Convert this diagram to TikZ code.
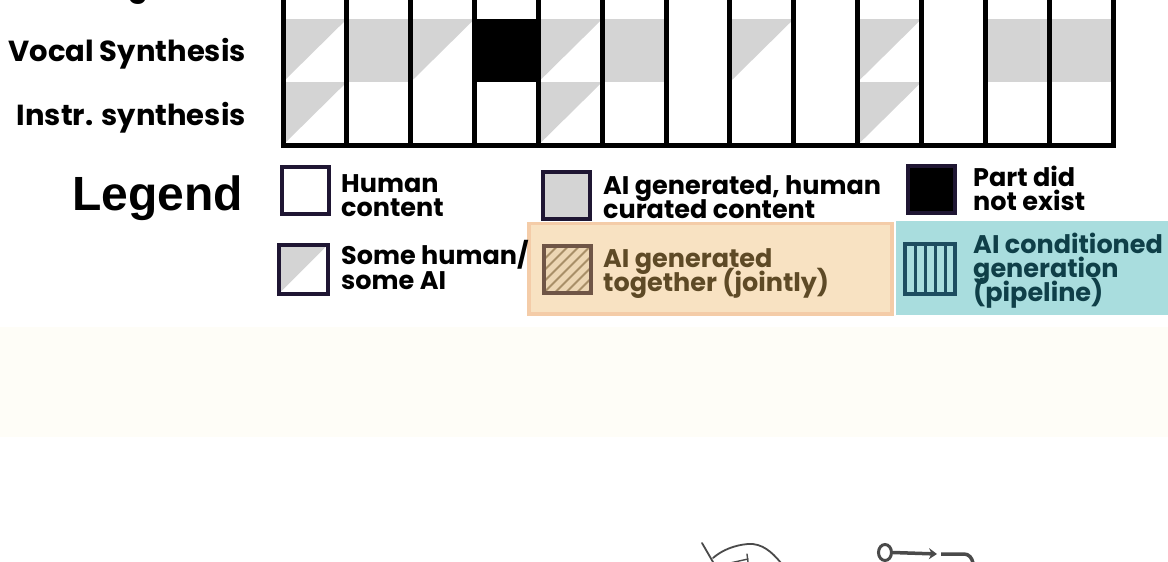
\documentclass[tikz,border=0pt]{standalone}
\usepackage{fontspec}
\setmainfont{Poppins}
\newfontfamily\legfont{Liberation Sans}
\usetikzlibrary{arrows.meta,shapes.geometric}
\definecolor{cellgray}{HTML}{D4D4D4}
\definecolor{cream}{HTML}{FEFDF7}
\definecolor{sqborder}{HTML}{1F1633}
\definecolor{orfill}{HTML}{F8E2C2}
\definecolor{orborder}{HTML}{F4CCA8}
\definecolor{hatchborder}{HTML}{6F5546}
\definecolor{hatchline}{HTML}{A88F68}
\definecolor{ortext}{HTML}{5E4A26}
\definecolor{tealfill}{HTML}{A9DDDE}
\definecolor{tealborder}{HTML}{1D4D60}
\definecolor{tealtext}{HTML}{0F3F48}
\definecolor{sketchc}{HTML}{4A4A4A}
\tikzset{
  gridline/.style={line width=5pt, black, line cap=rect},
  legsq/.style={draw=sqborder, line width=4pt, minimum size=47pt, inner sep=0pt, outer sep=0pt},
  rowlabel/.style={font=\bfseries\fontsize{29}{29}\selectfont, anchor=base east, inner sep=0pt},
  legtext/.style={font=\bfseries\fontsize{25.5}{25.5}\selectfont, anchor=base west, inner sep=0pt},
  sketch/.style={draw=sketchc, line width=1.8pt, line cap=round, line join=round},
}
\begin{document}
\begin{tikzpicture}[x=1pt,y=-1pt]
\useasboundingbox (0,0) rectangle (1168,562);
\clip (0,0) rectangle (1168,562);
\fill[white] (0,0) rectangle (1168,562);
\fill[cream] (0,327) rectangle (1168,437);

% ---- grid ----
\def\cw{63.85}
\foreach \i in {1,5,11,12}
  \fill[cellgray] ({283+\i*\cw},19) rectangle ({283+(\i+1)*\cw},82);
\foreach \i in {0,2,4,7,9}
  \fill[cellgray] ({283+\i*\cw},19) -- ({283+(\i+1)*\cw},19) -- ({283+\i*\cw},82) -- cycle;
\foreach \i in {0,4,9}
  \fill[cellgray] ({283+\i*\cw},82) -- ({283+(\i+1)*\cw},82) -- ({283+\i*\cw},145) -- cycle;
\fill[black] ({283+3*\cw},19) rectangle ({283+4*\cw},82);
\foreach \i in {0,...,13}
  \draw[gridline] ({283+\i*\cw},-5) -- ({283+\i*\cw},145);
\draw[gridline] (283,145) -- ({283+13*\cw},145);

% ---- row labels ----
\node[rowlabel] (rowtop) at (246,-3) {Arrangement};
\node[rowlabel] (rowvocal) at (246,61) {Vocal Synthesis};
\node[rowlabel] (rowinstr) at (246,125) {Instr. synthesis};

% ---- legend ----
\node[font=\legfont\bfseries\fontsize{48}{48}\selectfont, anchor=base east, inner sep=0pt] (legend) at (243,210) {Legend};

\fill[orborder] (527,222) rectangle (894,316);
\fill[orfill] (531,225) rectangle (890,312);
\fill[tealfill] (896,221) rectangle (1168,315);

\node[legsq, fill=white] (sqhuman) at (305,190) {};
\node[legtext] (thuman1) at (341,192) {Human};
\node[legtext] (thuman2) at (341,216) {content};

\node[legsq, minimum size=49pt, fill=white,
  path picture={\fill[cellgray] (path picture bounding box.north west) -- (path picture bounding box.north east) -- (path picture bounding box.south west) -- cycle;}]
  (sqsome) at (303.5,269) {};
\node[legtext] (tsome1) at (341,264) {Some human/};
\node[legtext] (tsome2) at (341,289) {some AI};

\node[legsq, fill=cellgray] (sqcur) at (566,195.5) {};
\node[legtext] (tcur1) at (603,194) {AI generated, human};
\node[legtext] (tcur2) at (603,218) {curated content};

\node[legsq, fill=black] (sqnot) at (931,189.5) {};
\node[legtext] (tnot1) at (973,186) {Part did};
\node[legtext] (tnot2) at (973,210) {not exist};

\node[legsq, draw=hatchborder, fill=orfill!85!hatchline,
  path picture={\foreach \k in {-44,-33,...,44}
     \draw[hatchline, line width=1.8pt] ([shift={(\k-35,35)}]path picture bounding box.center) -- ++(70,-70);}]
  (sqjoint) at (567.5,269) {};
\node[legtext, text=ortext] (tjoint1) at (603,267) {AI generated};
\node[legtext, text=ortext] (tjoint2) at (603,291) {together (jointly)};

\node[legsq, draw=tealborder, minimum size=50pt,
  path picture={\foreach \k in {-15,-5,5,15}
     \draw[tealborder, line width=3pt] ([shift={(\k,-30)}]path picture bounding box.center) -- ++(0,60);}]
  (sqpipe) at (930,269) {};
\node[legtext, text=tealtext] (tpipe1) at (973,253) {AI conditioned};
\node[legtext, text=tealtext] (tpipe2) at (973,277) {generation};
\node[legtext, text=tealtext] (tpipe3) at (973,301) {(pipeline)};

% ---- partial sketches at the bottom ----
\draw[sketch] (702,543) -- (713,562);
\draw[sketch] (713,558) .. controls (722,550) and (735,545) .. (748,544) .. controls (762,543) and (772,552) .. (781,563);
\draw[sketch, line width=1.4pt] (730,563) -- (748,559);
\draw[sketch, line width=1.4pt] (747,554) -- (748,562);
\node[draw=sketchc, line width=3pt, ellipse, minimum width=13pt, minimum height=16pt, inner sep=0pt] (iconcirc) at (885,552.5) {};
\coordinate (iconarrow) at (937,554);
\draw[sketchc, line width=3.5pt, -{Stealth[length=8pt,width=11pt]}] (iconcirc.east) -- (iconarrow);
\draw[sketchc, line width=3.5pt] (941,554) -- (964,554) .. controls (969,554) and (972,558) .. (973,563);
\end{tikzpicture}
\end{document}
